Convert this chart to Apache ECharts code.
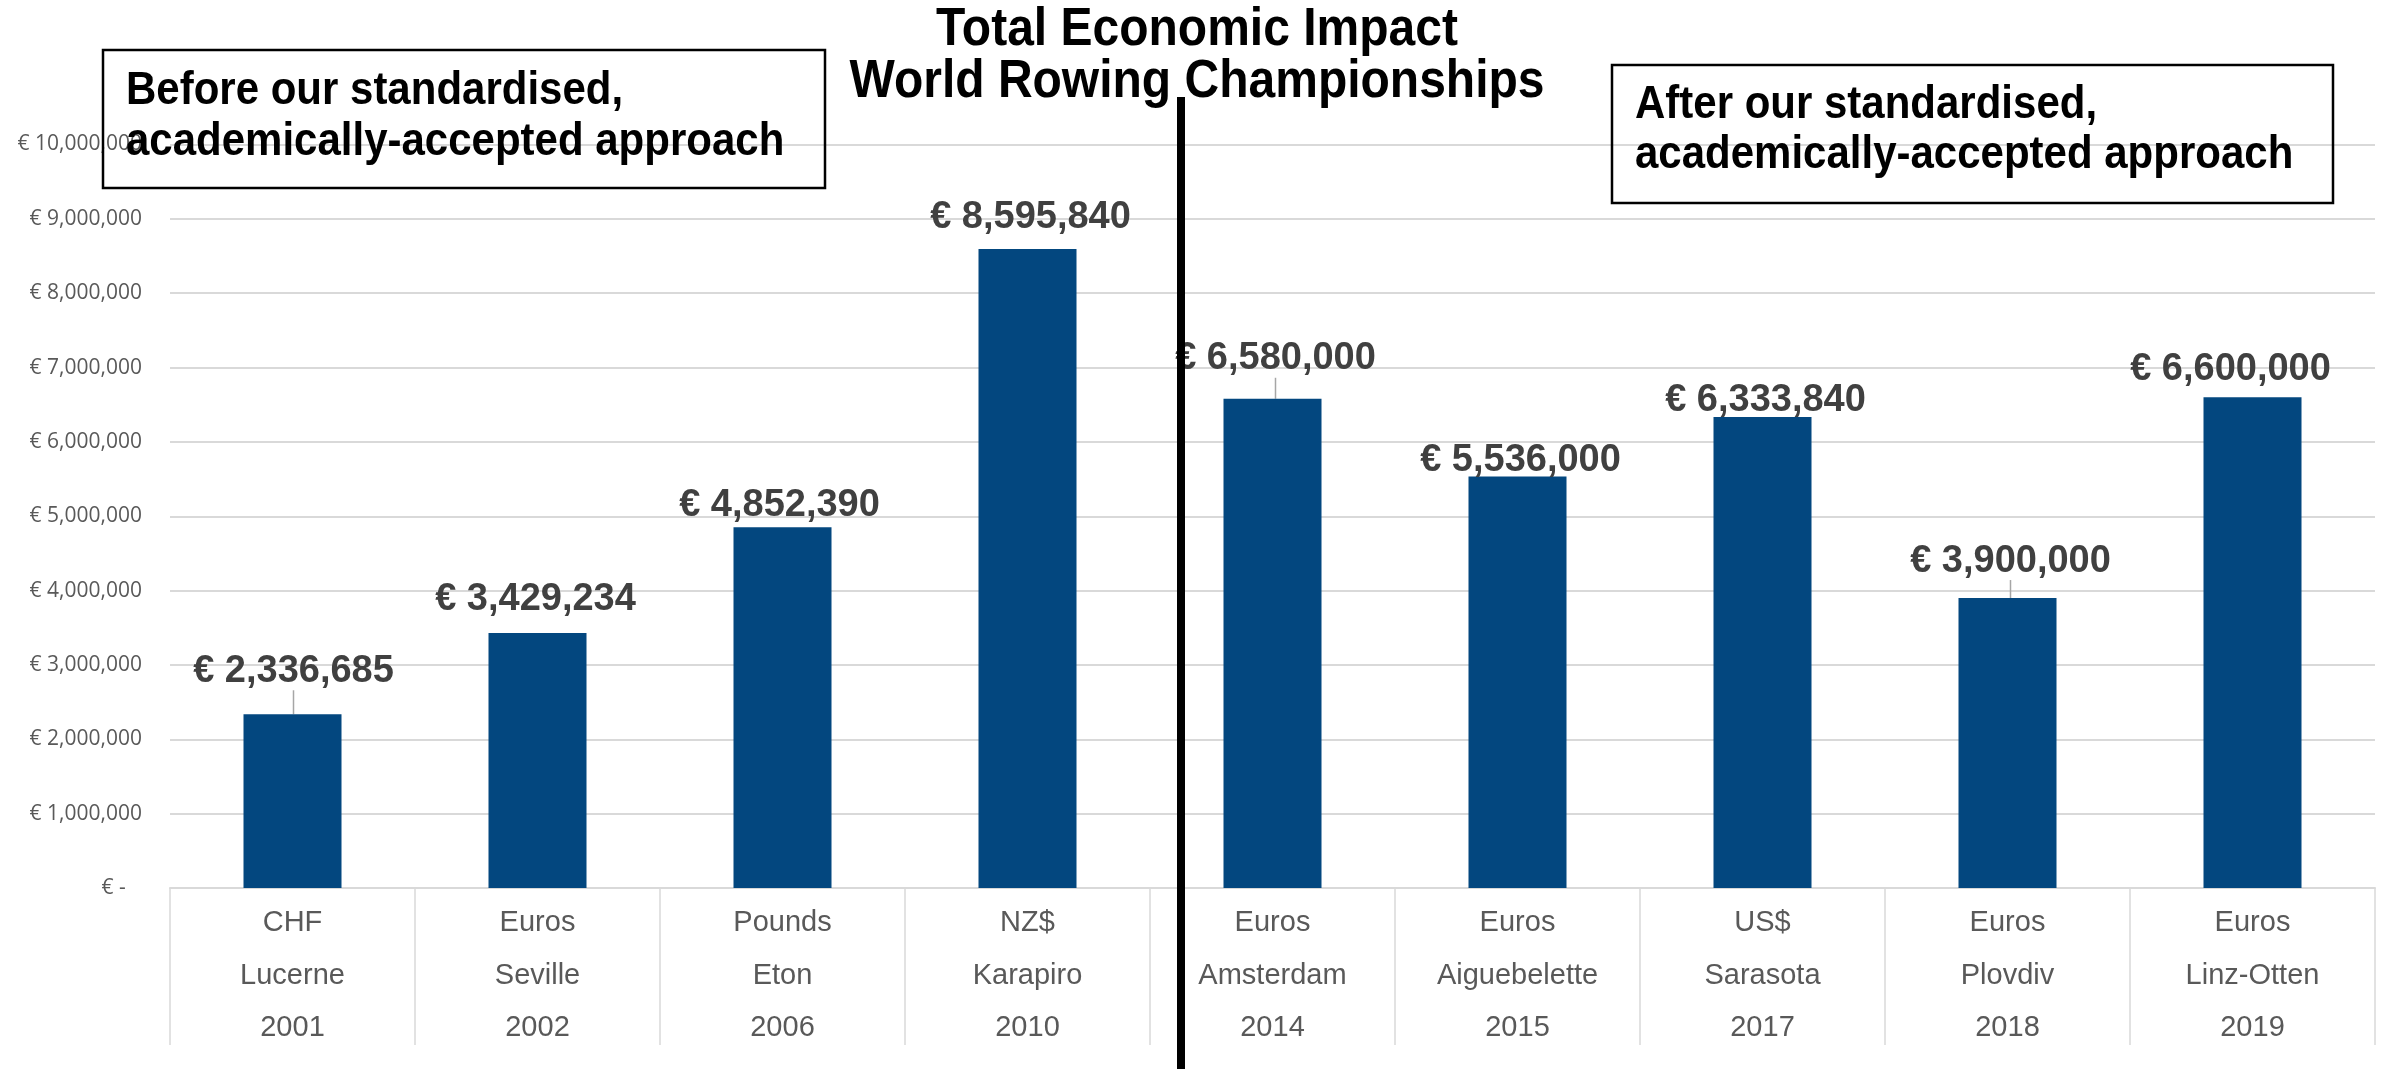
<!DOCTYPE html>
<html>
<head>
<meta charset="utf-8">
<script src="https://cdn.jsdelivr.net/npm/echarts@6/dist/echarts.min.js"></script>
<style>
  html, body { margin: 0; padding: 0; background: #ffffff; }
  #chart { width: 2385px; height: 1069px; }
</style>
</head>
<body>
<div id="chart"></div>
<script>
// ---- data ----
const currencies = ['CHF', 'Euros', 'Pounds', 'NZ$', 'Euros', 'Euros', 'US$', 'Euros', 'Euros'];
const cities = ['Lucerne', 'Seville', 'Eton', 'Karapiro', 'Amsterdam', 'Aiguebelette', 'Sarasota', 'Plovdiv', 'Linz-Otten'];
const years = ['2001', '2002', '2006', '2010', '2014', '2015', '2017', '2018', '2019'];
const impactValues = [2336685, 3429234, 4852390, 8595840, 6580000, 5536000, 6333840, 3900000, 6600000];
const titleLines = ['Total Economic Impact', 'World Rowing Championships'];
const beforeText = ['Before our standardised,', 'academically-accepted approach'];
const afterText = ['After our standardised,', 'academically-accepted approach'];
const yTickMax = 10000000;
const yTickStep = 1000000;

// ---- label nudges (style only) ----
const labelDx = [1, -2, -3, 3, 3, 3, 3, 3, -22];
const labelDy = [-24, -15, -3, -12, -21, 3, 2, -18, -9];
const leaderShown = [true, false, false, false, true, false, false, true, false];

const categories = years.map((y, i) => currencies[i] + '\n' + cities[i] + '\n' + y);

function euro(v) {
  return '€ ' + Math.round(v).toLocaleString('en-US');
}

const chart = echarts.init(document.getElementById('chart'), null, { renderer: 'canvas' });

const seriesData = impactValues.map((v, i) => ({
  value: v,
  labelLine: { show: leaderShown[i], lineStyle: { color: '#a6a6a6', width: 1.5 } }
}));

const boldFont = '"Liberation Sans", Arial, sans-serif';

function txt(text, x, y, size, align, sy) {
  return {
    type: 'text', z: 100, x: x, y: y, scaleY: sy, originX: 0, originY: 0,
    style: { text: text, x: 0, y: 0, align: align, verticalAlign: 'middle', fill: '#000', font: 'bold ' + size + 'px ' + boldFont }
  };
}

const option = {
  animation: false,
  backgroundColor: '#ffffff',
  grid: { left: 170, right: 10, top: 144.5, bottom: 181, containLabel: false },
  xAxis: {
    type: 'category',
    data: categories,
    axisLine: { show: true, lineStyle: { color: '#d9d9d9', width: 2 } },
    axisTick: { show: true, length: 157, lineStyle: { color: '#d9d9d9', width: 1.5 } },
    axisLabel: {
      interval: 0,
      margin: 9,
      color: '#595959',
      fontSize: 29,
      lineHeight: 52.5,
      fontFamily: '"Liberation Sans", Arial, sans-serif'
    },
    splitLine: { show: false }
  },
  yAxis: {
    type: 'value',
    min: 0,
    max: yTickMax,
    interval: yTickStep,
    axisLine: { show: false },
    axisTick: { show: false },
    splitLine: { show: true, lineStyle: { color: '#d9d9d9', width: 2 } },
    axisLabel: {
      margin: 28,
      color: '#595959',
      fontSize: 21,
      fontFamily: '"Open Sans", sans-serif',
      formatter: function (v) { return v === 0 ? '€ -   ' : euro(v); }
    }
  },
  series: [{
    type: 'bar',
    data: seriesData,
    barWidth: '40%',
    itemStyle: { color: '#03477F' },
    label: {
      show: true,
      position: 'top',
      distance: 0,
      color: '#404040',
      fontSize: 38,
      fontWeight: 'bold',
      fontFamily: boldFont,
      formatter: function (p) { return euro(p.value); }
    },
    labelLine: { show: false },
    labelLayout: function (params) {
      const i = params.dataIndex;
      return { dx: labelDx[i], dy: labelDy[i] };
    }
  }],
  graphic: [
    // title
    txt(titleLines[0], 1197, 30, 48, 'center', 1.1),
    txt(titleLines[1], 1197, 82, 48, 'center', 1.1),
    // divider
    { type: 'rect', z: 100, shape: { x: 1177, y: 97, width: 8, height: 980 }, style: { fill: '#000' } },
    // left box
    { type: 'rect', z: 90, shape: { x: 103, y: 50, width: 722, height: 138 }, style: { fill: 'none', stroke: '#000', lineWidth: 2.5 } },
    txt(beforeText[0], 126, 91, 42, 'left', 1.12),
    txt(beforeText[1], 126, 142, 42, 'left', 1.12),
    // right box
    { type: 'rect', z: 90, shape: { x: 1612, y: 65, width: 721, height: 138 }, style: { fill: 'none', stroke: '#000', lineWidth: 2.5 } },
    txt(afterText[0], 1635, 105, 42, 'left', 1.12),
    txt(afterText[1], 1635, 155, 42, 'left', 1.12)
  ]
};

chart.setOption(option);
</script>
</body>
</html>
